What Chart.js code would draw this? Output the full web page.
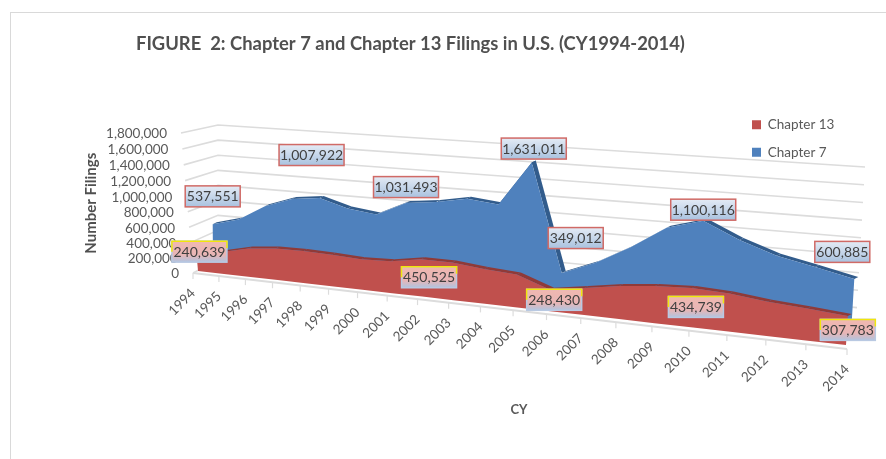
<!DOCTYPE html>
<html>
<head>
<meta charset="utf-8">
<style>
  html, body { margin: 0; padding: 0; background: #fff; overflow: hidden; }
  #frame { position: absolute; left: 10px; top: 12px; width: 900px; height: 500px; border: 1px solid #d9d9d9; }
  #wrap { position: absolute; left: 0; top: 0; width: 886px; height: 459px; }
</style>
</head>
<body>
<div id="frame"></div>
<div id="wrap"><canvas id="chart" width="886" height="459"></canvas></div>
<script src="https://cdn.jsdelivr.net/npm/chart.js@4"></script>
<script>
const years = ["1994", "1995", "1996", "1997", "1998", "1999", "2000", "2001", "2002", "2003", "2004",
  "2005", "2006", "2007", "2008", "2009", "2010", "2011", "2012", "2013", "2014"];
const chapter13 = [240639, 285000, 365000, 400000, 405000, 395000, 375000, 390000, 450525, 450000, 410000,
  385000, 248430, 310000, 375000, 415000, 434739, 415000, 370000, 340000, 307783];
const chapter7 = [537551, 636000, 841000, 966000, 1007922, 904000, 858000, 1031493, 1074000, 1143000, 1102000,
  1631011, 349012, 509000, 729000, 988000, 1100116, 917000, 778000, 692000, 600885];
const labelled13 = ["1994", "2002", "2006", "2010", "2014"];
const labelled7 = ["1994", "1998", "2001", "2005", "2006", "2010", "2014"];

// the flat scales are mapped on to these planes: bottom left, bottom right, top right, top left
const planes = {
  floorEdge: [[193, 273], [847, 349], [858, 172], [181, 133]],
  chapter13: [[198, 271], [846, 345], [857, 169], [186, 130]],
  chapter7: [[213, 264], [851, 334], [861, 167], [212, 130]],
  wall: [[218, 260], [856, 325], [865, 167], [218, 125]],
};
// label centre relative to its point, by year
const nudge13 = { 1994: [3, -1], 2002: [8, 18], 2006: [4, 10], 2010: [4, 19], 2014: [0, 14] };
const nudge7 = { 1994: [0, -28], 1998: [-8, -43], 2001: [0, -16], 2005: [2, -14], 2006: [14, -35], 2010: [0, -11], 2014: [-12, -27] };

function quad(c) {
  const [[x0, y0], [x1, y1], [x2, y2], [x3, y3]] = c;
  const dx1 = x1 - x2, dx2 = x3 - x2, sx = x0 - x1 + x2 - x3;
  const dy1 = y1 - y2, dy2 = y3 - y2, sy = y0 - y1 + y2 - y3;
  const den = dx1 * dy2 - dx2 * dy1;
  const g = (sx * dy2 - dx2 * sy) / den;
  const h = (dx1 * sy - sx * dy1) / den;
  const a = x1 - x0 + g * x1, b = x3 - x0 + h * x3;
  const d = y1 - y0 + g * y1, e = y3 - y0 + h * y3;
  return (s, t) => {
    const w = g * s + h * t + 1;
    return { x: (a * s + b * t + x0) / w, y: (d * s + e * t + y0) / w };
  };
}
const maps = {};
Object.keys(planes).forEach((k) => { maps[k] = quad(planes[k]); });

function project(chart, plane, i, value) {
  const area = chart.chartArea;
  const s = (chart.scales.x.getPixelForValue(i) - area.left) / area.width;
  const t = (area.bottom - chart.scales.y.getPixelForValue(value)) / area.height;
  return maps[plane](s, t);
}

function fmt(v) {
  return v.toLocaleString("en-US");
}

function dataLabel(ctx, text, cx, cy, stops, border, topBorder) {
  const w = text.length > 7 ? 65 : 55, h = 21;
  const x = cx - w / 2, y = cy - h / 2;
  const grad = ctx.createLinearGradient(0, y, 0, y + h);
  stops.forEach((s) => grad.addColorStop(s[0], s[1]));
  ctx.fillStyle = grad;
  ctx.fillRect(x, y, w, h);
  ctx.lineWidth = 1.5;
  ctx.strokeStyle = border;
  ctx.strokeRect(x, y, w, h);
  if (topBorder) {
    ctx.strokeStyle = topBorder;
    ctx.beginPath();
    ctx.moveTo(x, y + h / 2);
    ctx.lineTo(x, y);
    ctx.lineTo(x + w, y);
    ctx.lineTo(x + w, y + h / 3);
    ctx.stroke();
  }
  ctx.fillStyle = "#404040";
  ctx.font = "14px Lato";
  ctx.textAlign = "center";
  ctx.textBaseline = "middle";
  ctx.fillText(text, cx, cy + 0.5);
}

const perspective = {
  id: "perspective",
  // move the line's points on to the series plane
  afterDatasetsUpdate(chart) {
    chart.data.datasets.forEach((ds, di) => {
      chart.getDatasetMeta(di).data.forEach((pt, i) => {
        const p = project(chart, ds.plane, i, ds.data[i]);
        pt.x = p.x;
        pt.y = p.y;
      });
    });
  },
  beforeDraw(chart) {
    const { ctx, scales, legend, titleBlock } = chart;
    titleBlock.left = 136;
    titleBlock.right = 800;
    legend.left = 738;
    legend.top = 104;
    legend.right = 880;
    legend.bottom = 300;

    ctx.save();
    ctx.strokeStyle = "#dcdcdc";
    ctx.lineWidth = 1.6;
    const last = years.length - 1;
    scales.y.ticks.forEach((tick) => {
      const front = project(chart, "floorEdge", 0, tick.value);
      const back = project(chart, "wall", 0, tick.value);
      const right = project(chart, "wall", last, tick.value);
      ctx.beginPath();
      ctx.moveTo(front.x, front.y);
      ctx.lineTo(back.x, back.y);
      ctx.lineTo(right.x, right.y);
      ctx.stroke();
      ctx.fillStyle = "#595959";
      ctx.font = "13.5px Lato";
      ctx.textAlign = "right";
      ctx.textBaseline = "middle";
      ctx.fillText(fmt(tick.value), front.x - 14, front.y + 1);
    });
    // floor edge with its ticks and the year labels
    const a = project(chart, "floorEdge", 0, 0);
    const b = project(chart, "floorEdge", last, 0);
    ctx.lineWidth = 2;
    ctx.beginPath();
    ctx.moveTo(a.x, a.y);
    ctx.lineTo(b.x, b.y);
    ctx.stroke();
    years.forEach((year, i) => {
      const p = project(chart, "floorEdge", i, 0);
      ctx.lineWidth = 1.2;
      ctx.beginPath();
      ctx.moveTo(p.x, p.y);
      ctx.lineTo(p.x, p.y + 6);
      ctx.stroke();
      ctx.save();
      ctx.translate(p.x, p.y + 18);
      ctx.rotate(-Math.PI / 4);
      ctx.fillStyle = "#595959";
      ctx.font = "13.5px Lato";
      ctx.textAlign = "right";
      ctx.textBaseline = "middle";
      ctx.fillText(year, 0, 0);
      ctx.restore();
    });
    ctx.restore();
  },
  beforeDatasetDraw(chart, args) {
    const { ctx } = chart;
    const ds = chart.data.datasets[args.index];
    const pts = args.meta.data;
    ctx.save();
    // top face of the area
    ctx.fillStyle = ds.topColor;
    const off = [4, -2];
    for (let i = 1; i < pts.length; i++) {
      ctx.beginPath();
      ctx.moveTo(pts[i - 1].x, pts[i - 1].y);
      ctx.lineTo(pts[i].x, pts[i].y);
      ctx.lineTo(pts[i].x + off[0], pts[i].y + off[1]);
      ctx.lineTo(pts[i - 1].x + off[0], pts[i - 1].y + off[1]);
      ctx.closePath();
      ctx.fill();
    }
    // front face
    ctx.fillStyle = ds.backgroundColor;
    ctx.beginPath();
    pts.forEach((pt, i) => (i ? ctx.lineTo(pt.x, pt.y) : ctx.moveTo(pt.x, pt.y)));
    for (let i = pts.length - 1; i >= 0; i--) {
      const p = project(chart, ds.plane, i, 0);
      ctx.lineTo(p.x, p.y);
    }
    ctx.closePath();
    ctx.fill();
    ctx.restore();
  },
  afterDatasetsDraw(chart) {
    const { ctx } = chart;
    labelled7.forEach((year) => {
      const i = years.indexOf(year);
      const p = chart.getDatasetMeta(1).data[i];
      const n = nudge7[year];
      dataLabel(ctx, fmt(chapter7[i]), p.x + n[0], p.y + n[1], [[0, "#e4ebf5"], [1, "#a9c2df"]], "#d06a66");
    });
    labelled13.forEach((year) => {
      const i = years.indexOf(year);
      const p = chart.getDatasetMeta(0).data[i];
      const n = nudge13[year];
      dataLabel(ctx, fmt(chapter13[i]), p.x + n[0], p.y + n[1], [[0, "#f0b8b0"], [0.65, "#e8b5b5"], [1, "#b0c4e0"]], "#b9c9e2", "#f2e60c");
    });
  },
};

new Chart(document.getElementById("chart"), {
  type: "line",
  plugins: [perspective],
  data: {
    labels: years,
    datasets: [
      { label: "Chapter 13", data: chapter13, plane: "chapter13", backgroundColor: "#c0504d", borderColor: "#c0504d", topColor: "#8f3a38" },
      { label: "Chapter 7", data: chapter7, plane: "chapter7", backgroundColor: "#4f81bd", borderColor: "#4f81bd", topColor: "#325c8c" },
    ],
  },
  options: {
    responsive: false,
    animation: false,
    layout: { padding: { left: 82, right: 18, top: 0, bottom: 0 } },
    elements: { line: { borderWidth: 0 }, point: { radius: 0 } },
    scales: {
      x: {
        grid: { display: false },
        border: { display: false },
        ticks: { display: false },
        title: { display: true, text: "CY", color: "#595959", font: { family: "Lato", size: 13, weight: "bold" }, padding: { top: 131, bottom: 41 } },
      },
      y: {
        min: 0,
        max: 1800000,
        grid: { display: false },
        border: { display: false },
        ticks: { display: false, stepSize: 200000 },
        title: { display: true, text: "Number Filings", color: "#505050", font: { family: "Lato", size: 15, weight: "bold" }, padding: 0 },
        afterFit(scale) { scale.width = 88; },
      },
    },
    plugins: {
      tooltip: { enabled: false },
      title: {
        display: true,
        text: "FIGURE  2: Chapter 7 and Chapter 13 Filings in U.S. (CY1994-2014)",
        align: "start",
        color: "#505050",
        font: { family: "Lato", size: 18.4, weight: "bold" },
        padding: { top: 33, bottom: 88 },
      },
      legend: {
        position: "chartArea",
        align: "start",
        labels: { boxWidth: 9, boxHeight: 9, padding: 14, color: "#595959", font: { family: "Lato", size: 13.5 } },
      },
    },
  },
});
</script>
</body>
</html>
